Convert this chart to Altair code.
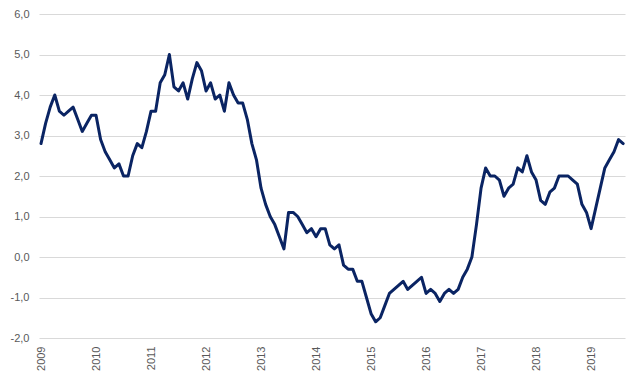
import altair as alt
import pandas as pd

start_year = 2009
values = [
    2.8, 3.3, 3.7, 4.0, 3.6, 3.5, 3.6, 3.7, 3.4, 3.1, 3.3, 3.5,
    3.5, 2.9, 2.6, 2.4, 2.2, 2.3, 2.0, 2.0, 2.5, 2.8, 2.7, 3.1,
    3.6, 3.6, 4.3, 4.5, 5.0, 4.2, 4.1, 4.3, 3.9, 4.4, 4.8, 4.6,
    4.1, 4.3, 3.9, 4.0, 3.6, 4.3, 4.0, 3.8, 3.8, 3.4, 2.8, 2.4,
    1.7, 1.3, 1.0, 0.8, 0.5, 0.2, 1.1, 1.1, 1.0, 0.8, 0.6, 0.7,
    0.5, 0.7, 0.7, 0.3, 0.2, 0.3, -0.2, -0.3, -0.3, -0.6, -0.6, -1.0,
    -1.4, -1.6, -1.5, -1.2, -0.9, -0.8, -0.7, -0.6, -0.8, -0.7, -0.6, -0.5,
    -0.9, -0.8, -0.9, -1.1, -0.9, -0.8, -0.9, -0.8, -0.5, -0.3, 0.0, 0.8,
    1.7, 2.2, 2.0, 2.0, 1.9, 1.5, 1.7, 1.8, 2.2, 2.1, 2.5, 2.1,
    1.9, 1.4, 1.3, 1.6, 1.7, 2.0, 2.0, 2.0, 1.9, 1.8, 1.3, 1.1,
    0.7, 1.2, 1.7, 2.2, 2.4, 2.6, 2.9, 2.8,
]
year_labels = ["2009", "2010", "2011", "2012", "2013", "2014",
               "2015", "2016", "2017", "2018", "2019"]
y_ticks = [-2, -1, 0, 1, 2, 3, 4, 5, 6]

df = pd.DataFrame({"m": list(range(len(values))), "v": values})
x_ticks = [12 * k for k in range(len(year_labels))]
label_arr = "[" + ",".join("'" + s + "'" for s in year_labels) + "]"

line = alt.Chart(df).mark_line(
    color="#0a2463", strokeWidth=3, strokeJoin="round", strokeCap="round"
).encode(
    x=alt.X("m:Q",
            scale=alt.Scale(domain=[-0.44, 127.4], nice=False, zero=False),
            axis=alt.Axis(values=x_ticks, labelExpr=label_arr + "[round(datum.value/12)]",
                          labelAngle=270, labelPadding=8, grid=False, domain=False,
                          ticks=False, title=None)),
    y=alt.Y("v:Q",
            scale=alt.Scale(domain=[-2, 6], nice=False),
            axis=alt.Axis(values=y_ticks,
                          labelExpr="replace((datum.value < 0 ? '-' : '') + format(abs(datum.value), '.1f'), '.', ',')",
                          grid=True, gridColor="#d9d9d9", gridWidth=1, domain=False,
                          ticks=False, labelPadding=10, title=None)),
)

chart = line.properties(
    width=586, height=324,
    autosize=alt.AutoSizeParams(type="none"),
    padding={"left": 31, "top": 6, "right": 7, "bottom": 40},
    background="white",
).configure_view(stroke=None).configure_axis(
    labelFont="Liberation Sans", labelFontSize=11, labelColor="#595959"
)

chart.save("out.html", embed_options={"renderer": "svg", "actions": False})
